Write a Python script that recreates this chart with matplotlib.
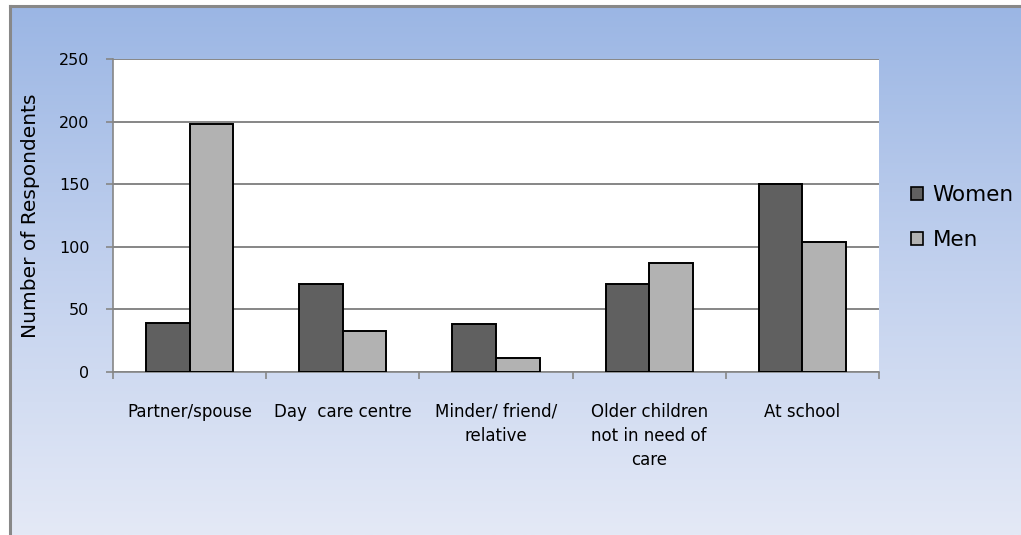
import numpy as np
import matplotlib
matplotlib.use("Agg")
import matplotlib.pyplot as plt
from matplotlib.colors import LinearSegmentedColormap
from matplotlib.lines import Line2D
from matplotlib.patches import Patch

categories = ["Partner/spouse", "Day  care centre", "Minder/ friend/\nrelative",
              "Older children\nnot in need of\ncare", "At school"]
women = [39, 70, 38, 70, 150]
men = [198, 33, 11, 87, 104]
y_ticks = [0, 50, 100, 150, 200, 250]

W, H = 1021, 535
fig = plt.figure(figsize=(W / 100, H / 100), dpi=100)
fig.patch.set_facecolor("white")

# gradient panel behind the chart
bg = fig.add_axes([10 / W, 0, 1 - 10 / W, 1 - 6 / H], zorder=0)
grad = np.linspace(0, 1, 256).reshape(-1, 1)
cmap = LinearSegmentedColormap.from_list(
    "panel", ["#9bb6e4", "#c2d1ee", "#e4e9f6"])
bg.imshow(grad, aspect="auto", cmap=cmap, extent=[0, 1, 0, 1], origin="upper")
bg.set_xlim(0, 1)
bg.set_ylim(0, 1)
bg.axis("off")
fig.add_artist(Line2D([10 / W, 10 / W], [0, 1 - 6 / H], color="#888888",
                      lw=2.2, transform=fig.transFigure, zorder=1))
fig.add_artist(Line2D([10 / W, 1], [1 - 6 / H, 1 - 6 / H], color="#888888",
                      lw=2.2, transform=fig.transFigure, zorder=1))

left, right = 113 / W, 879 / W
bottom, top = 1 - 372 / H, 1 - 59 / H
ax = fig.add_axes([left, bottom, right - left, top - bottom], zorder=2)
ax.set_facecolor("white")

x = np.arange(len(categories))
bw = 0.284
ax.bar(x - bw / 2, women, bw, color="#606060", edgecolor="black",
       linewidth=1.4, label="Women", zorder=3)
ax.bar(x + bw / 2, men, bw, color="#b2b2b2", edgecolor="black",
       linewidth=1.4, label="Men", zorder=3)

ax.set_xlim(-0.5, len(categories) - 0.5)
ax.set_ylim(0, 250)
ax.set_yticks(y_ticks)
ax.set_yticklabels([str(v) for v in y_ticks], fontsize=11.5)
ax.yaxis.grid(True, color="#868686", lw=1.4, zorder=1)
ax.set_axisbelow(True)

ax.set_xticks(x)
ax.set_xticklabels(categories, fontsize=12, linespacing=1.45, va="top")
ax.tick_params(axis="x", which="major", length=0, pad=22)
ax.set_xticks(np.arange(-0.5, len(categories)), minor=True)
ax.tick_params(axis="x", which="minor", length=5, width=1.2,
               color="#868686", direction="out")
ax.tick_params(axis="y", length=5, width=1.2, color="#868686",
               direction="out", pad=12)

for s in ["top", "right"]:
    ax.spines[s].set_visible(False)
for s in ["left", "bottom"]:
    ax.spines[s].set_color("#868686")
    ax.spines[s].set_linewidth(1.2)

ax.set_ylabel("Number of Respondents", fontsize=14.5)
ax.yaxis.set_label_coords(-73 / 766, 0.5)

handles = [Patch(facecolor="#606060", edgecolor="black", lw=1.2),
           Patch(facecolor="#b2b2b2", edgecolor="black", lw=1.2)]
fig.legend(handles, ["Women", "Men"], loc="upper left",
           bbox_to_anchor=(896 / W, 1 - 170 / H), frameon=False,
           fontsize=15.5, handlelength=0.55, handleheight=0.55,
           handletextpad=0.45, labelspacing=1.15, borderpad=0.2)

fig.savefig("out.png", dpi=100)
